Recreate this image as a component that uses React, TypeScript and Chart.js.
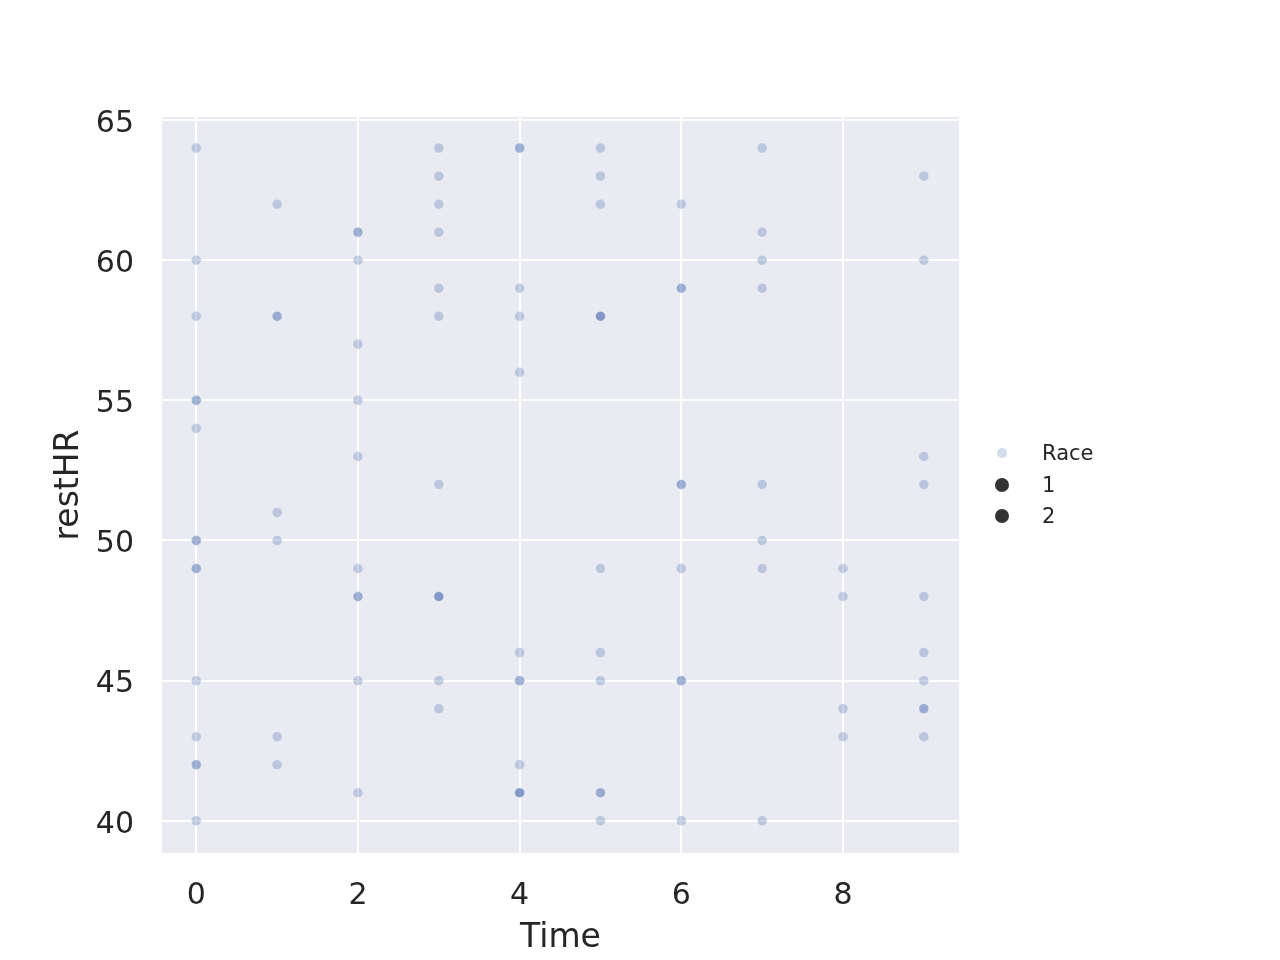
import React, { useEffect, useRef } from "react";
import { Chart, registerables } from "chart.js";

Chart.register(...registerables);

// ---- Data (Time → restHR readings; repeated values are overlapping points) ----
const timeValues = [0, 1, 2, 3, 4, 5, 6, 7, 8, 9];
const restHRAtTime0 = [64, 60, 58, 55, 55, 54, 50, 50, 49, 49, 45, 43, 42, 42, 40];
const restHRAtTime1 = [62, 58, 58, 51, 50, 43, 42];
const restHRAtTime2 = [61, 61, 60, 57, 55, 53, 49, 48, 48, 45, 41];
const restHRAtTime3 = [64, 63, 62, 61, 59, 58, 52, 48, 48, 48, 45, 44];
const restHRAtTime4 = [64, 64, 59, 58, 56, 46, 45, 45, 42, 41, 41, 41];
const restHRAtTime5 = [64, 63, 62, 58, 58, 58, 49, 46, 45, 41, 41, 40];
const restHRAtTime6 = [62, 59, 59, 52, 52, 49, 45, 45, 40];
const restHRAtTime7 = [64, 61, 60, 59, 52, 50, 49, 40];
const restHRAtTime8 = [49, 48, 44, 43];
const restHRAtTime9 = [63, 60, 53, 52, 48, 46, 45, 44, 44, 43];
const restHRByTime = [
  restHRAtTime0, restHRAtTime1, restHRAtTime2, restHRAtTime3, restHRAtTime4,
  restHRAtTime5, restHRAtTime6, restHRAtTime7, restHRAtTime8, restHRAtTime9,
];

const xTicks = [0, 2, 4, 6, 8];
const yTicks = [40, 45, 50, 55, 60, 65];
const xLabel = "Time";
const yLabel = "restHR";
const legendTitle = "Race";
const legendEntries = ["1", "2"];

const FONT = "'DejaVu Sans', sans-serif";
const TEXT = "#262626";

export default function App() {
  const ref = useRef<HTMLCanvasElement | null>(null);

  useEffect(() => {
    if (!ref.current) return;
    const points: { x: number; y: number }[] = [];
    timeValues.forEach((t, i) => {
      restHRByTime[i].forEach((v) => points.push({ x: t, y: v }));
    });

    const bgPlugin = {
      id: "bg",
      beforeDraw(chart: any) {
        const { ctx, chartArea } = chart;
        ctx.save();
        ctx.fillStyle = "#eaeaf2";
        ctx.fillRect(chartArea.left, chartArea.top, chartArea.right - chartArea.left, chartArea.bottom - chartArea.top);
        ctx.restore();
      },
    };

    const legendPlugin = {
      id: "customLegend",
      afterDraw(chart: any) {
        const ctx = chart.ctx;
        ctx.save();
        ctx.font = `21px ${FONT}`;
        ctx.textBaseline = "middle";
        ctx.textAlign = "left";
        // title entry
        ctx.fillStyle = "rgba(76,114,176,0.25)";
        ctx.beginPath();
        ctx.arc(1002, 453, 5, 0, Math.PI * 2);
        ctx.fill();
        ctx.fillStyle = TEXT;
        ctx.fillText(legendTitle, 1042, 455);
        legendEntries.forEach((lab, i) => {
          const y = 485 + i * 31;
          ctx.fillStyle = "#333333";
          ctx.beginPath();
          ctx.arc(1002, y, 7, 0, Math.PI * 2);
          ctx.fill();
          ctx.fillStyle = TEXT;
          ctx.fillText(lab, 1042, y + 2);
        });
        ctx.restore();
      },
    };

    const chart = new Chart(ref.current, {
      type: "scatter",
      data: {
        datasets: [
          {
            label: legendTitle,
            data: points,
            backgroundColor: "rgba(76,114,176,0.3)",
            borderColor: "rgba(255,255,255,0.3)",
            borderWidth: 1,
            pointRadius: 5,
            pointHoverRadius: 5,
          },
        ],
      },
      options: {
        responsive: false,
        animation: false,
        devicePixelRatio: 1,
        layout: { padding: { left: 0, right: 321, top: 117, bottom: 0 } },
        plugins: { legend: { display: false }, tooltip: { enabled: false } },
        scales: {
          x: {
            type: "linear",
            min: -0.424,
            max: 9.435,
            afterBuildTicks: (scale: any) => {
              scale.ticks = xTicks.map((v) => ({ value: v }));
            },
            afterFit: (scale: any) => {
              scale.height = 107;
            },
            grid: { color: "#ffffff", lineWidth: 2, drawTicks: false },
            border: { display: false },
            ticks: {
              color: TEXT,
              font: { family: FONT, size: 30, lineHeight: 1.2 },
              padding: 25,
              maxRotation: 0,
            },
            title: {
              display: true,
              text: xLabel,
              color: TEXT,
              font: { family: FONT, size: 33, lineHeight: 1.2 },
              padding: { top: 0, bottom: 2 },
            },
          },
          y: {
            type: "linear",
            min: 38.85,
            max: 65.11,
            afterBuildTicks: (scale: any) => {
              scale.ticks = yTicks.map((v) => ({ value: v }));
            },
            afterFit: (scale: any) => {
              scale.width = 162;
            },
            grid: { color: "#ffffff", lineWidth: 2, drawTicks: false },
            border: { display: false },
            ticks: {
              color: TEXT,
              // empty first line nudges the number down by half a (small) line height
              callback: (value: any) => ["", String(value)],
              font: { family: FONT, size: 30, lineHeight: 0.27 },
              padding: 28,
            },
            title: {
              display: true,
              text: yLabel,
              color: TEXT,
              font: { family: FONT, size: 33, lineHeight: 1.2 },
              padding: { top: 50, bottom: 0 },
            },
          },
        },
      },
      plugins: [bgPlugin, legendPlugin],
    });
    return () => chart.destroy();
  }, []);

  return (
    <div style={{ position: "absolute", left: 0, top: 0, width: 1280, height: 960, background: "#ffffff" }}>
      <canvas ref={ref} width={1280} height={960} style={{ display: "block" }} />
    </div>
  );
}
